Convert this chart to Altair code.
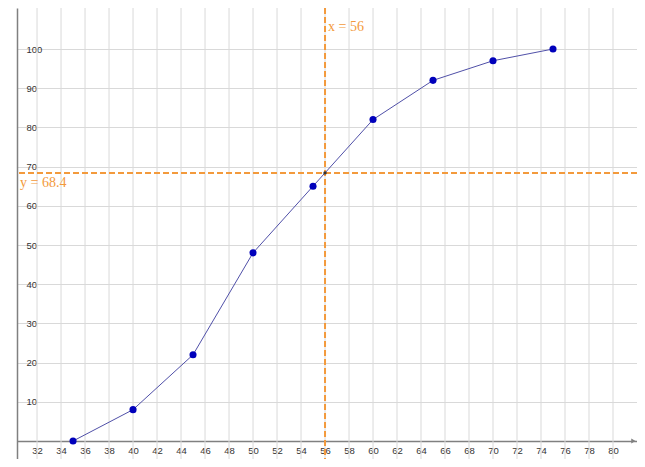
import altair as alt
import pandas as pd

# cumulative frequency curve
x_vals = [35, 40, 45, 50, 55, 60, 65, 70, 75]
y_vals = [0, 8, 22, 48, 65, 82, 92, 97, 100]

# axis ticks
x_ticks = [32, 34, 36, 38, 40, 42, 44, 46, 48, 50, 52, 54, 56, 58, 60, 62, 64, 66, 68, 70, 72, 74, 76, 78, 80]
y_ticks = [10, 20, 30, 40, 50, 60, 70, 80, 90, 100]

# reading lines
read_x = 56
read_y = 68.4

x_min, x_max = 30.33, 82.0
y_min, y_max = -4.59, 110.46

x_scale = alt.Scale(domain=[x_min, x_max], nice=False, zero=False)
y_scale = alt.Scale(domain=[y_min, y_max], nice=False, zero=False)

# x axis sits at y = 0, y labels drawn inside the plot
x_axis = alt.Axis(values=x_ticks, offset=-18, grid=False, ticks=False,
                  domainColor="#808080", domainWidth=1.5,
                  labelFontSize=9.5, labelColor="#333", labelPadding=4,
                  labelFont="Liberation Sans", labelOverlap=False, labelFlush=False, title=None)
y_axis = alt.Axis(values=y_ticks, grid=True, gridColor="#d9d9d9", ticks=False,
                  domainColor="#808080", domainWidth=1.5,
                  labelAlign="left", labelPadding=-9, labelFontSize=9.5, labelColor="#333",
                  labelFont="Liberation Sans", labelOverlap=False, title=None)

orange = "#f39a3c"

df = pd.DataFrame({"x": x_vals, "y": y_vals})
grid_df = pd.DataFrame({"x": x_ticks})


def X(field="x"):
    return alt.X(field + ":Q", scale=x_scale, axis=x_axis)


def Y(field="y"):
    return alt.Y(field + ":Q", scale=y_scale, axis=y_axis)


# vertical grid lines
vgrid = alt.Chart(grid_df).mark_rule(color="#d9d9d9", strokeWidth=1).encode(x=X())

line = alt.Chart(df).mark_line(color="#5050a8", strokeWidth=1).encode(x=X(), y=Y())

points = alt.Chart(df).mark_circle(color="#0000bb", size=50, opacity=1).encode(x=X(), y=Y())

# dashed reading lines
vline = alt.Chart(pd.DataFrame({"x": [read_x]})).mark_rule(
    color=orange, strokeWidth=2, strokeDash=[6, 3]).encode(x=X())
hline = alt.Chart(pd.DataFrame({"y": [read_y]})).mark_rule(
    color=orange, strokeWidth=2, strokeDash=[6, 3]).encode(y=Y())

cross = alt.Chart(pd.DataFrame({"x": [read_x], "y": [read_y]})).mark_circle(
    color="#333", size=12, opacity=1).encode(x=X(), y=Y())

# arrow on the x axis
arrow = alt.Chart(pd.DataFrame({"x": [x_max - 0.3], "y": [0]})).mark_point(
    shape="triangle-right", filled=True, color="#808080", size=25, opacity=1).encode(x=X(), y=Y())

xlabel = alt.Chart(pd.DataFrame({"x": [read_x], "y": [y_max], "t": ["x = 56"]})).mark_text(
    align="left", baseline="top", dx=3, dy=12, font="Liberation Serif", fontSize=14, color=orange
).encode(x=X(), y=Y(), text="t:N")

ylabel = alt.Chart(pd.DataFrame({"x": [x_min], "y": [read_y], "t": ["y = 68.4"]})).mark_text(
    align="left", baseline="top", dx=3, dy=3, font="Liberation Serif", fontSize=14, color=orange
).encode(x=X(), y=Y(), text="t:N")

chart = alt.layer(vgrid, line, vline, hline, points, cross, arrow, xlabel, ylabel).properties(
    width=620, height=451,
    autosize=alt.AutoSizeParams(type="none"),
    padding={"left": 9, "top": 0, "right": 0, "bottom": 0},
    background="white"
).configure_view(stroke=None).configure_axis(labelOverlap=False)

chart.save("out.html", embed_options={"renderer": "svg", "actions": False})
